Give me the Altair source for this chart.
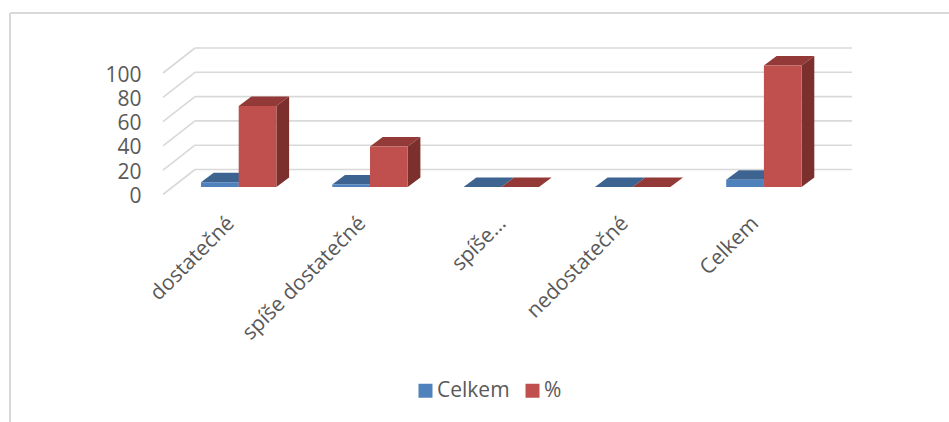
import altair as alt
import pandas as pd

categories = ["dostatečné", "spíše dostatečné", "spíše…", "nedostatečné", "Celkem"]
celkem = [4, 2, 0, 0, 6]
procenta = [66.67, 33.33, 0, 0, 100]
series_names = ["Celkem", "%"]
y_ticks = [0, 20, 40, 60, 80, 100]

# Pixel scale of the drawing; everything below is converted to data units.
PX_PER_CAT = 131.3
PX_PER_VAL = 1.215
PLOT_W, PLOT_H = 689, 155
X_ZERO_PX, Y_ZERO_PX = 75.7, 154.5

bar_w = 37.7 / PX_PER_CAT
bar_dx = 12.7 / PX_PER_CAT
bar_dy = 9.5 / PX_PER_VAL
base = 7.5 / PX_PER_VAL
wall_dx = 32 / PX_PER_CAT
wall_dy = 25 / PX_PER_VAL
x_front = -X_ZERO_PX / PX_PER_CAT

# Horizontal nudge of each rotated category label, in pixels.
label_nudge_px = [8, 8, -1, 8, 9]

x_scale = alt.Scale(domain=[x_front, (PLOT_W - X_ZERO_PX) / PX_PER_CAT], nice=False, zero=False)
y_scale = alt.Scale(domain=[(Y_ZERO_PX - PLOT_H) / PX_PER_VAL, Y_ZERO_PX / PX_PER_VAL], nice=False, zero=False)

# Category labels sit slightly left of their bar pair, so ticks are shifted and rounded back.
label_expr = "[" + ",".join(f"'{c}'" for c in categories) + "][round(datum.value)]"
tick_positions = [i - n / PX_PER_CAT for i, n in enumerate(label_nudge_px)]

x_axis = alt.Axis(values=tick_positions, labelExpr=label_expr, domain=False, ticks=False,
                  grid=False, labelAngle=-45, labelAlign="right", labelBaseline="middle",
                  labelPadding=25, labelFont="Open Sans", labelFontSize=21,
                  labelColor="#595959", labelOverlap=False, labelBound=False, labelFlush=False)
y_axis = alt.Axis(values=y_ticks, domain=False, ticks=False, grid=False, labelPadding=22,
                  labelOffset=2, labelOverlap=False, labelBound=False, labelFlush=False,
                  labelFont="Open Sans", labelFontSize=21, labelColor="#595959")

X = lambda f: alt.X(f, type="quantitative", scale=x_scale, title=None, axis=x_axis)
Y = lambda f: alt.Y(f, type="quantitative", scale=y_scale, title=None, axis=y_axis)

# Box faces for each series: front rectangle, top and side parallelograms.
fronts, tops, sides = [], [], []
for s, (name, vals) in enumerate(zip(series_names, [celkem, procenta])):
    for i, v in enumerate(vals):
        l = i + (s - 1) * bar_w
        r = l + bar_w
        t = base + v
        key = f"{name}-{i}"
        fronts.append(dict(series=name, l=l, r=r, b=base, t=t))
        tops.append(dict(series=name, k=key, y=t, x1=l, x2=r))
        tops.append(dict(series=name, k=key, y=t + bar_dy, x1=l + bar_dx, x2=r + bar_dx))
        sides.append(dict(series=name, k=key, x=r, y1=base, y2=t))
        sides.append(dict(series=name, k=key, x=r + bar_dx, y1=base + bar_dy, y2=t + bar_dy))
fronts, tops, sides = map(pd.DataFrame, (fronts, tops, sides))

walls = pd.DataFrame({
    "x": [x_front] * len(y_ticks), "xb": [x_front + wall_dx] * len(y_ticks),
    "xe": [x_front + PLOT_W / PX_PER_CAT] * len(y_ticks),
    "y": y_ticks, "yb": [v + wall_dy for v in y_ticks],
})

GRID = "#d9d9d9"
diag = alt.Chart(walls).mark_rule(color=GRID, strokeWidth=1.6).encode(x=X("x"), x2="xb", y=Y("y"), y2="yb")
back = alt.Chart(walls).mark_rule(color=GRID, strokeWidth=1.6).encode(x=X("xb"), x2="xe", y=Y("yb"))


def faces(name, top_c, side_c):
    top = alt.Chart(tops[tops.series == name]).mark_area(orient="horizontal", color=top_c, clip=False).encode(
        y=Y("y"), x=X("x1"), x2="x2", detail="k:N")
    side = alt.Chart(sides[sides.series == name]).mark_area(color=side_c, clip=False).encode(
        x=X("x"), y=Y("y1"), y2="y2", detail="k:N")
    front = alt.Chart(fronts[fronts.series == name]).mark_rect().encode(
        x=X("l"), x2="r", y=Y("b"), y2="t",
        color=alt.Color("series:N", title=None,
                        scale=alt.Scale(domain=series_names, range=["#4f81bd", "#c0504d"]),
                        legend=alt.Legend(orient="none", legendX=252, legendY=340, direction="horizontal",
                                          symbolType="square", symbolSize=196, symbolStrokeWidth=0,
                                          labelFont="Open Sans", labelFontSize=21, labelColor="#595959",
                                          columnPadding=12, labelOffset=1)))
    return [top, side, front]


frame_top = alt.Chart(pd.DataFrame({"a": [0]})).mark_rule(color=GRID, strokeWidth=2).encode(
    x=alt.value(-153), x2=alt.value(786), y=alt.value(-27))
frame_left = alt.Chart(pd.DataFrame({"a": [0]})).mark_rule(color=GRID, strokeWidth=2).encode(
    x=alt.value(-153), y=alt.value(-27), y2=alt.value(382))

layers = [frame_top, frame_left, diag, back]
layers += faces("Celkem", "#3d6491", "#335680") + faces("%", "#933a38", "#7c302e")

chart = alt.layer(*layers).resolve_scale(color="shared").properties(
    width=PLOT_W, height=PLOT_H,
    padding={"left": 163, "top": 40, "right": 97, "bottom": 227},
    autosize=alt.AutoSizeParams(type="none"),
    background="white",
).configure_view(stroke=None)

chart.save("out.html", embed_options={"renderer": "svg", "actions": False})
